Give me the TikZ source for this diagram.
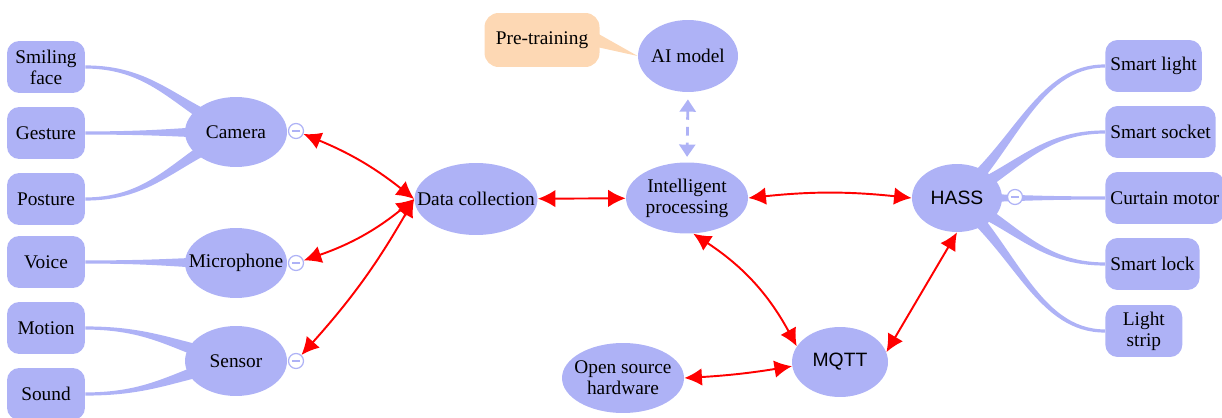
\documentclass[tikz,border=0pt]{standalone}
\usepackage{fontspec}
\setmainfont{Liberation Serif}
\newfontfamily\arialfont{Liberation Sans}
\usepackage{tikz}
\usetikzlibrary{shapes,arrows.meta,positioning,calc,backgrounds}
\definecolor{lav}{RGB}{174,178,246}
\definecolor{peach}{RGB}{253,216,180}
\definecolor{linkred}{RGB}{255,0,0}
\tikzstyle{hub}=[ellipse, fill=lav, inner xsep=-10pt, inner ysep=-2pt, align=center]
\tikzstyle{leaf}=[rectangle, rounded corners=7pt, fill=lav, align=center, minimum height=1.04cm, inner xsep=0.1cm]
\tikzstyle{toggle}=[circle, draw=lav, fill=white, line width=0.7pt, minimum size=0.3cm, inner sep=0pt,
  path picture={\draw[lav, line width=0.7pt] ([xshift=-2.2pt]path picture bounding box.center) -- ([xshift=2.2pt]path picture bounding box.center);}]
\tikzstyle{link}=[draw, linkred, line width=1.1pt, {Latex[length=10pt,width=10pt]}-{Latex[length=10pt,width=10pt]}]
\tikzstyle{dlink}=[draw, lav, line width=1.6pt, dash pattern=on 5pt off 4pt, {Triangle[length=7pt,width=9pt]}-{Triangle[length=7pt,width=9pt]}]
\tikzstyle{branchfill}=[fill=lav]
% tapered branch: thin end at #1, thick end at #2, half width #3
\newcommand{\branch}[3]{%
  \fill[branchfill] let \p1=(#1), \p2=(#2) in
    (\x1,\y1+0.9pt) .. controls ({\x1+0.45*(\x2-\x1)},\y1+0.9pt) and ({\x1+0.6*(\x2-\x1)},{\y1+0.6*(\y2-\y1)+0.6*#3}) .. (\x2,\y2+#3)
    -- (\x2,\y2-#3) .. controls ({\x1+0.6*(\x2-\x1)},{\y1+0.6*(\y2-\y1)-0.6*#3}) and ({\x1+0.45*(\x2-\x1)},\y1-0.9pt) .. (\x1,\y1-0.9pt) -- cycle;}

\begin{document}
\begin{tikzpicture}[x=0.02cm, y=0.02cm, font=\fontsize{11}{12}\selectfont]

            \useasboundingbox (0,0) rectangle (1222,-418);

            % Hubs
            \node[hub, minimum width=2.04cm, minimum height=1.4cm] (camera) at (236,-132) {Camera};
            \node[hub, minimum width=2.04cm, minimum height=1.4cm] (mic) at (236,-263) {Microphone};
            \node[hub, minimum width=2.04cm, minimum height=1.4cm] (sensor) at (236,-361) {Sensor};
            \node[hub, minimum width=2.46cm, minimum height=1.44cm] (datacol) at (476,-199) {Data collection};
            \node[hub, minimum width=2.44cm, minimum height=1.42cm] (intel) at (687,-198) {Intelligent\\processing};
            \node[hub, minimum width=2.0cm, minimum height=1.44cm] (aimodel) at (688,-56) {AI model};
            \node[hub, minimum width=1.92cm, minimum height=1.4cm, font=\arialfont\fontsize{11}{12}\selectfont] (mqtt) at (840,-362) {MQTT};
            \node[hub, minimum width=2.44cm, minimum height=1.4cm] (osh) at (623,-378) {Open source\\hardware};
            \node[hub, minimum width=1.8cm, minimum height=1.36cm, font=\arialfont\fontsize{11}{12}\selectfont] (hass) at (957,-198) {HASS};

            % Pre-training note
            \node[fill=peach, rounded corners=8pt, minimum width=2.3cm, minimum height=1.08cm] (pretrain) at (542,-40) {Pre-training};

            % Left leaves
            \foreach \nm/\y/\txt in {smile/67/{Smiling\\face}, gesture/133/Gesture, posture/199/Posture,
                                     voice/262/Voice, motion/328/Motion, sound/394/Sound} {
                \node[leaf, minimum width=1.56cm] (\nm) at (46,-\y) {\txt};
            }

            % Right leaves
            \foreach \nm/\y/\txt in {slight/66/Smart light, ssocket/132/Smart socket, curtain/198/Curtain motor,
                                     slock/264/Smart lock, lstrip/331/{Light\\strip}} {
                \node[leaf, anchor=west, minimum width=1.54cm] (\nm) at (1105,-\y) {\txt};
            }

            % Collapse toggles
            \node[toggle] (camtog) at (296,-131) {};
            \node[toggle] (mictog) at (296,-263) {};
            \node[toggle] (sentog) at (296,-361) {};
            \node[toggle] (hasstog) at (1015,-197) {};

            % Branches behind the hubs
            \begin{scope}[on background layer]
                \branch{smile.east}{camera.center}{5pt}
                \branch{gesture.east}{camera.center}{4pt}
                \branch{posture.east}{camera.center}{5pt}
                \branch{voice.east}{mic.center}{4pt}
                \branch{motion.east}{sensor.center}{5pt}
                \branch{sound.east}{sensor.center}{5pt}
                \branch{slight.west}{hass.center}{6pt}
                \branch{ssocket.west}{hass.center}{5pt}
                \branch{curtain.west}{hass.center}{3pt}
                \branch{slock.west}{hass.center}{5pt}
                \branch{lstrip.west}{hass.center}{6pt}
                \fill[peach] ($(pretrain.east)+(-3,7)$) -- (aimodel.west) -- ($(pretrain.east)+(-3,-7)$) -- cycle;
            \end{scope}

            % Links
            \draw[link] (camtog) to[bend left=8] (datacol.west);
            \draw[link] (mictog) to[bend right=10] (datacol.west);
            \draw[link] (sentog) to[bend right=6] (datacol.west);
            \draw[link] (datacol) -- (intel);
            \draw[link] (intel.east) to[bend left=6] (hass.west);
            \draw[link] (intel.-80) to[bend left=14] (mqtt.160);
            \draw[link] (osh.east) to[bend right=3] (mqtt.185);
            \draw[link] (mqtt.12) -- (hass.south);
            \draw[dlink, shorten <=4pt, shorten >=3pt] (aimodel.south) -- (intel.north);

        \end{tikzpicture}
\end{document}
